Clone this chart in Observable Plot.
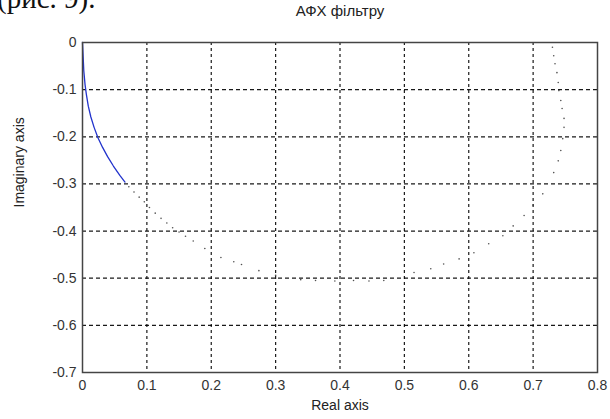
<!DOCTYPE html>
<html>
<head>
<meta charset="utf-8">
<script src="https://cdn.jsdelivr.net/npm/d3@7"></script>
<script src="https://cdn.jsdelivr.net/npm/@observablehq/plot@0.6"></script>
<style>
  html, body { margin: 0; padding: 0; background: #fff; }
  #wrap { position: relative; width: 610px; height: 419px; overflow: hidden; }
  #fig { position: absolute; left: -3px; top: -16px; font-family: "Liberation Serif", "DejaVu Serif", serif; font-size: 29px; color: #111; line-height: 1; white-space: nowrap; }
  #title { position: absolute; left: 0; width: 680px; top: 2px; text-align: center; font-family: "Liberation Sans", Arial, sans-serif; font-size: 15px; color: #222; }
</style>
</head>
<body>
<div id="wrap">
  <div id="chart"></div>
  <div id="fig">(рис. 9).</div>
  <div id="title">АФХ фільтру</div>
</div>
<script>
// Dense (solid blue) low-frequency part of the curve
const lineRe = [0.000, 0.001, 0.002, 0.004, 0.006, 0.009, 0.013, 0.018, 0.024, 0.031, 0.039, 0.048, 0.058, 0.066];
const lineIm = [0.000, -0.030, -0.060, -0.090, -0.110, -0.135, -0.158, -0.180, -0.202, -0.222, -0.242, -0.262, -0.282, -0.296];

// Sparse (dotted) higher-frequency part of the curve
const dotRe = [0.072, 0.080, 0.088, 0.096, 0.104, 0.113, 0.122, 0.131, 0.140, 0.150, 0.160, 0.172, 0.190, 0.215, 0.235, 0.247, 0.274, 0.300, 0.339, 0.362, 0.392, 0.421, 0.445, 0.468, 0.515, 0.541, 0.561, 0.585, 0.608, 0.631, 0.653, 0.669, 0.686, 0.700, 0.715, 0.732, 0.739, 0.743, 0.746, 0.748, 0.748, 0.745, 0.743, 0.740, 0.739, 0.737, 0.734, 0.732, 0.730];
const dotIm = [-0.306, -0.317, -0.328, -0.338, -0.350, -0.362, -0.373, -0.383, -0.393, -0.402, -0.411, -0.421, -0.437, -0.456, -0.465, -0.471, -0.484, -0.494, -0.503, -0.505, -0.506, -0.505, -0.506, -0.505, -0.488, -0.480, -0.470, -0.459, -0.446, -0.427, -0.410, -0.389, -0.367, -0.345, -0.321, -0.276, -0.251, -0.229, -0.204, -0.180, -0.161, -0.140, -0.123, -0.102, -0.085, -0.064, -0.045, -0.028, -0.010];

const xTicks = [0, 0.1, 0.2, 0.3, 0.4, 0.5, 0.6, 0.7, 0.8];
const yTicks = [0, -0.1, -0.2, -0.3, -0.4, -0.5, -0.6, -0.7];
const xLabel = "Real axis";
const yLabel = "Imaginary axis";

const lineData = lineRe.map((r, i) => ({re: r, im: lineIm[i]}));
const dotData = dotRe.map((r, i) => ({re: r, im: dotIm[i]}));
const fmt = d => d === 0 ? "0" : d.toFixed(1);

const chart = Plot.plot({
  width: 610,
  height: 419,
  marginLeft: 82,
  marginRight: 13,
  marginTop: 42,
  marginBottom: 47,
  style: { fontFamily: "Liberation Sans, Arial, sans-serif", fontSize: "13px", color: "#333", background: "#fff" },
  x: { domain: [0, 0.8] },
  y: { domain: [-0.7, 0] },
  marks: [
    Plot.gridX(xTicks.slice(1, -1), { stroke: "#000", strokeOpacity: 0.9, strokeDasharray: "3,3", strokeWidth: 1.2 }),
    Plot.gridY(yTicks.slice(1, -1), { stroke: "#000", strokeOpacity: 0.9, strokeDasharray: "4,3", strokeWidth: 1.2 }),
    Plot.axisX(xTicks, { tickSize: 0, tickPadding: 8, tickFormat: fmt, label: null, fontSize: 14 }),
    Plot.axisY(yTicks, { tickSize: 0, tickPadding: 6, tickFormat: fmt, label: null, fontSize: 14 }),
    Plot.line(lineData, { x: "re", y: "im", stroke: "#2233cc", strokeWidth: 1.3 }),
    Plot.dot(dotData, { x: "re", y: "im", r: 0.8, fill: "#333", stroke: null, fillOpacity: 0.85 }),
    Plot.frame({ stroke: "#444", strokeWidth: 1.5 }),
    Plot.text([xLabel], { frameAnchor: "bottom", dy: 37, text: d => d, fontSize: 14, fill: "#222" }),
    Plot.text([yLabel], { frameAnchor: "left", dx: -63, rotate: -90, text: d => d, fontSize: 14, fill: "#222" })
  ]
});
document.getElementById("chart").appendChild(chart);
</script>
</body>
</html>
